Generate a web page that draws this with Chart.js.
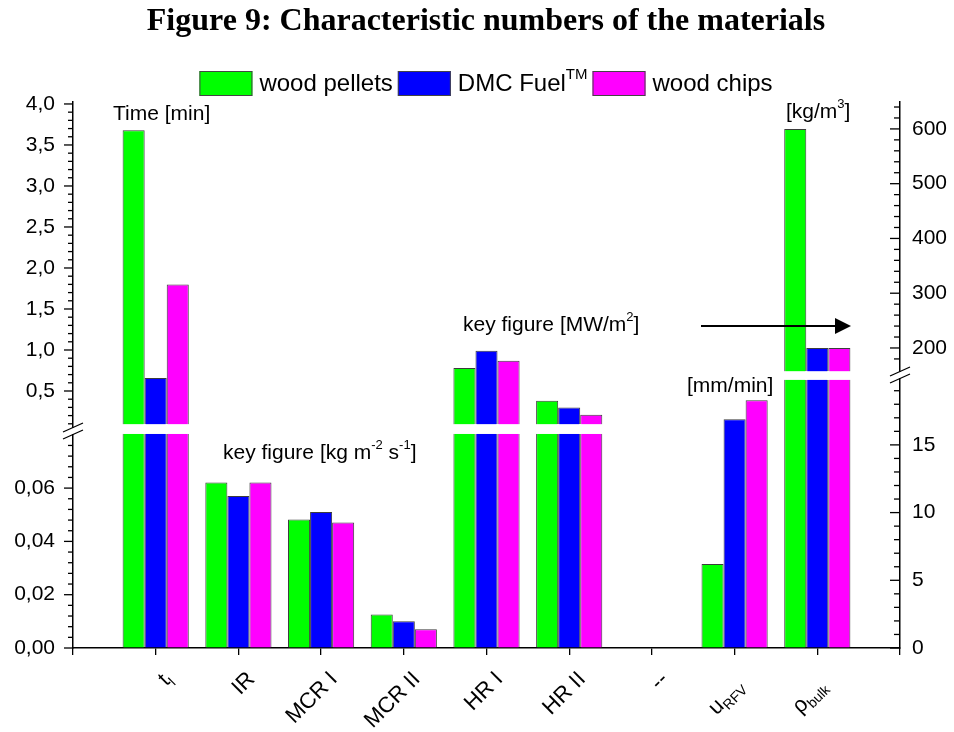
<!DOCTYPE html>
<html>
<head>
<meta charset="utf-8">
<style>
  html, body { margin: 0; padding: 0; background: #fff; }
  canvas { display: block; }
</style>
<script src="https://cdn.jsdelivr.net/npm/chart.js@4.4.1/dist/chart.umd.min.js"></script>
</head>
<body>
<canvas id="chart" width="954" height="732"></canvas>
<script>
// categories (main text + subscript) and the unit each one is measured in
const categoryMain = ['t', 'IR', 'MCR I', 'MCR II', 'HR I', 'HR II', '--', 'u', 'ρ'];
const categorySub  = ['l', '', '', '', '', '', '', 'RFV', 'bulk'];
const categoryUnit = ['time', 'flux', 'flux', 'flux', 'power', 'power', 'none', 'speed', 'density'];

const seriesNames = ['wood pellets', 'DMC Fuel', 'wood chips'];
const seriesColors = ['#00ff00', '#0000ff', '#ff00ff'];

const woodPellets = [3.68, 0.0621, 0.0482, 0.0126, 0.78, 0.38, null, 6.2, 600];
const dmcFuel     = [0.66, 0.0570, 0.0510, 0.0100, 0.99, 0.30, null, 16.9, 200];
const woodChips   = [1.80, 0.0621, 0.0471, 0.0070, 0.87, 0.21, null, 18.3, 200];

// tick labels of the two broken axes
const leftLowerTicks  = [0, 0.02, 0.04, 0.06];
const leftUpperTicks  = [0.5, 1.0, 1.5, 2.0, 2.5, 3.0, 3.5, 4.0];
const rightLowerTicks = [0, 5, 10, 15];
const rightUpperTicks = [200, 300, 400, 500, 600];

// each axis is broken in two; the chart uses one hidden 0..100 scale
const sections = {
  leftLow:  v => v * 488.1,                 // 0 .. 0.08
  leftUp:   v => 39.56 + v * 15.02,         // 0 .. 4.0
  rightLow: v => v * 2.48,                  // 0 .. 20
  rightUp:  v => 54.95 + (v - 200) * 0.1003 // 150 .. 650
};
const unitSection = {
  time: 'leftUp', power: 'leftUp', flux: 'leftLow',
  speed: 'rightLow', density: 'rightUp', none: 'leftLow'
};
// white gaps where the bars cross the break
const gaps = { leftUp: [39.2, 41.0], rightUp: [49.1, 50.7] };

const fmt = (v, d) => v.toFixed(d).replace('.', ',');
const leftTicks = leftLowerTicks.map(v => ({ value: sections.leftLow(v), label: fmt(v, 2) }))
  .concat(leftUpperTicks.map(v => ({ value: sections.leftUp(v), label: fmt(v, 1) })));
const rightTicks = rightLowerTicks.map(v => ({ value: sections.rightLow(v), label: String(v) }))
  .concat(rightUpperTicks.map(v => ({ value: sections.rightUp(v), label: String(v) })));

function mapSeries(arr) {
  const out = arr.map((v, i) => v == null ? null : sections[unitSection[categoryUnit[i]]](v));
  return [null].concat(out, [null]);   // empty slot at each end of the x axis
}

const SANS = "'Liberation Sans', Arial, sans-serif";

function richText(ctx, parts, x, y, size) {
  // parts: [text, 'sup'|'sub'|undefined]
  let cx = x;
  parts.forEach(p => {
    const small = p[1] ? Math.round(size * 0.64) : size;
    ctx.font = small + 'px ' + SANS;
    const dy = p[1] === 'sup' ? -size * 0.38 : p[1] === 'sub' ? size * 0.32 : 0;
    ctx.fillText(p[0], cx, y + dy);
    cx += ctx.measureText(p[0]).width;
  });
  return cx - x;
}
function richWidth(ctx, parts, size) {
  let w = 0;
  parts.forEach(p => {
    ctx.font = (p[1] ? Math.round(size * 0.64) : size) + 'px ' + SANS;
    w += ctx.measureText(p[0]).width;
  });
  return w;
}

const decor = {
  id: 'decor',
  afterDatasetsDraw(chart) {
    const ctx = chart.ctx, ys = chart.scales.y;
    ctx.save();
    ctx.fillStyle = '#fff';
    chart.data.datasets.forEach((ds, di) => {
      chart.getDatasetMeta(di).data.forEach((el, i) => {
        if (i === 0 || i > categoryUnit.length) return;
        const g = gaps[unitSection[categoryUnit[i - 1]]];
        if (!g || ds.data[i] == null) return;
        const y1 = ys.getPixelForValue(g[1]), y0 = ys.getPixelForValue(g[0]);
        ctx.fillRect(el.x - el.width / 2 - 1, y1, el.width + 2, y0 - y1);
      });
    });
    ctx.restore();
  },
  afterDraw(chart) {
    const ctx = chart.ctx, ys = chart.scales.y, xs = chart.scales.x;
    const area = chart.chartArea;
    const L = area.left, R = area.right;
    ctx.save();
    ctx.strokeStyle = '#000';
    ctx.fillStyle = '#000';
    ctx.lineWidth = 1.3;

    // y tick marks (major + minor)
    const tick = (x, y, len) => { ctx.beginPath(); ctx.moveTo(x, y); ctx.lineTo(x - len, y); ctx.stroke(); };
    for (let k = 0; k < 20; k++) tick(L, ys.getPixelForValue(sections.leftLow(k * 0.004)), k % 5 === 0 ? 9 : 5);
    for (let k = 1; k <= 40; k++) tick(L, ys.getPixelForValue(sections.leftUp(k * 0.1)), k % 5 === 0 ? 9 : 5);
    for (let k = 0; k < 20; k++) tick(R, ys.getPixelForValue(sections.rightLow(k)), k % 5 === 0 ? 10 : 6);
    for (let k = 9; k <= 32; k++) tick(R, ys.getPixelForValue(sections.rightUp(k * 20)), k % 5 === 0 ? 10 : 6);

    // axis break marks
    const brk = (x, yc) => {
      ctx.fillStyle = '#fff';
      ctx.fillRect(x - 3, yc - 3, 6, 6);
      ctx.beginPath();
      ctx.moveTo(x - 10, yc + 1); ctx.lineTo(x + 10, yc - 8);
      ctx.moveTo(x - 10, yc + 8); ctx.lineTo(x + 10, yc - 1);
      ctx.stroke();
    };
    brk(L, 431);
    brk(R, 375);

    // x labels, rotated, with subscripts
    ctx.fillStyle = '#000';
    ctx.textBaseline = 'middle';
    ctx.textAlign = 'left';
    categoryMain.forEach((m, i) => {
      const px = xs.getPixelForValue(i + 1);
      const parts = [[m]];
      if (categorySub[i]) parts.push([categorySub[i], 'sub']);
      const w = richWidth(ctx, parts, 22);
      const back = categorySub[i].length > 1 ? 7 : 0;
      ctx.save();
      ctx.translate(px + 13 - back, 676 + back);
      ctx.rotate(-Math.PI / 4);
      richText(ctx, parts, -w, 0, 22);
      ctx.restore();
    });

    // unit annotations
    richText(ctx, [['Time [min]']], 113, 114, 21);
    richText(ctx, [['[kg/m'], ['3', 'sup'], [']']], 786, 112, 21);
    richText(ctx, [['key figure [MW/m'], ['2', 'sup'], [']']], 463, 325, 21);
    richText(ctx, [['[mm/min]']], 687, 386, 21);
    richText(ctx, [['key figure [kg m'], ['-2', 'sup'], [' s'], ['-1', 'sup'], [']']], 223, 453, 21);

    // arrow towards the right axis
    ctx.lineWidth = 2;
    ctx.beginPath(); ctx.moveTo(701, 326); ctx.lineTo(838, 326); ctx.stroke();
    ctx.beginPath(); ctx.moveTo(851, 326); ctx.lineTo(835, 318); ctx.lineTo(835, 334); ctx.closePath(); ctx.fill();

    // title
    ctx.font = "bold 32px 'Liberation Serif', 'Times New Roman', serif";
    ctx.textAlign = 'center';
    ctx.fillText('Figure 9: Characteristic numbers of the materials', 486, 22);

    // legend
    ctx.textAlign = 'left';
    const items = seriesNames.map((n, i) => i === 1 ? [[n], ['TM', 'sup']] : [[n]]);
    const boxW = 53, boxH = 25, gapBox = 7, gapItem = 5;
    const widths = items.map(p => richWidth(ctx, p, 24));
    const total = widths.reduce((a, w) => a + boxW + gapBox + w, 0) + gapItem * (items.length - 1);
    let lx = 486 - total / 2;
    items.forEach((p, i) => {
      ctx.fillStyle = seriesColors[i];
      ctx.fillRect(lx, 71, boxW, boxH);
      ctx.lineWidth = 1;
      ctx.strokeStyle = '#444';
      ctx.strokeRect(lx + 0.5, 71.5, boxW - 1, boxH - 1);
      ctx.fillStyle = '#000';
      lx += boxW + gapBox;
      richText(ctx, p, lx, 84, 24);
      lx += widths[i] + gapItem;
    });
    ctx.restore();
  }
};

const seriesData = [woodPellets, dmcFuel, woodChips];
const tickFont = { family: SANS, size: 21 };

new Chart(document.getElementById('chart'), {
  type: 'bar',
  data: {
    labels: [''].concat(categoryMain, ['']),
    datasets: seriesData.map((arr, i) => ({
      label: seriesNames[i],
      data: mapSeries(arr),
      backgroundColor: seriesColors[i],
      borderColor: '#3c3c3c',
      borderWidth: 1,
      barPercentage: 1.0,
      categoryPercentage: 0.8
    }))
  },
  options: {
    responsive: false,
    animation: false,
    layout: { padding: { left: 0, right: 0, top: 102, bottom: 0 } },
    plugins: { legend: { display: false }, title: { display: false }, tooltip: { enabled: false } },
    scales: {
      x: {
        offset: false,
        grid: { offset: false, drawOnChartArea: false, drawTicks: true, tickLength: 7, color: '#000', lineWidth: 1.3 },
        border: { display: true, color: '#000', width: 1.5 },
        ticks: { display: false },
        afterFit: s => { s.height = 84; }
      },
      y: {
        position: 'left', min: 0, max: 100,
        afterBuildTicks: s => { s.ticks = leftTicks.map(t => ({ value: t.value })); },
        ticks: { autoSkip: false, padding: 18, color: '#000', font: tickFont,
                 callback: (v, i) => leftTicks[i] ? leftTicks[i].label : '' },
        grid: { drawOnChartArea: false, drawTicks: false },
        border: { display: true, color: '#000', width: 1.5 },
        afterFit: s => { s.width = 73; }
      },
      y2: {
        position: 'right', min: 0, max: 100,
        afterBuildTicks: s => { s.ticks = rightTicks.map(t => ({ value: t.value })); },
        ticks: { autoSkip: false, padding: 12, color: '#000', font: tickFont,
                 callback: (v, i) => rightTicks[i] ? rightTicks[i].label : '' },
        grid: { drawOnChartArea: false, drawTicks: false },
        border: { display: true, color: '#000', width: 1.5 },
        afterFit: s => { s.width = 54; }
      }
    }
  },
  plugins: [decor]
});
</script>
</body>
</html>
